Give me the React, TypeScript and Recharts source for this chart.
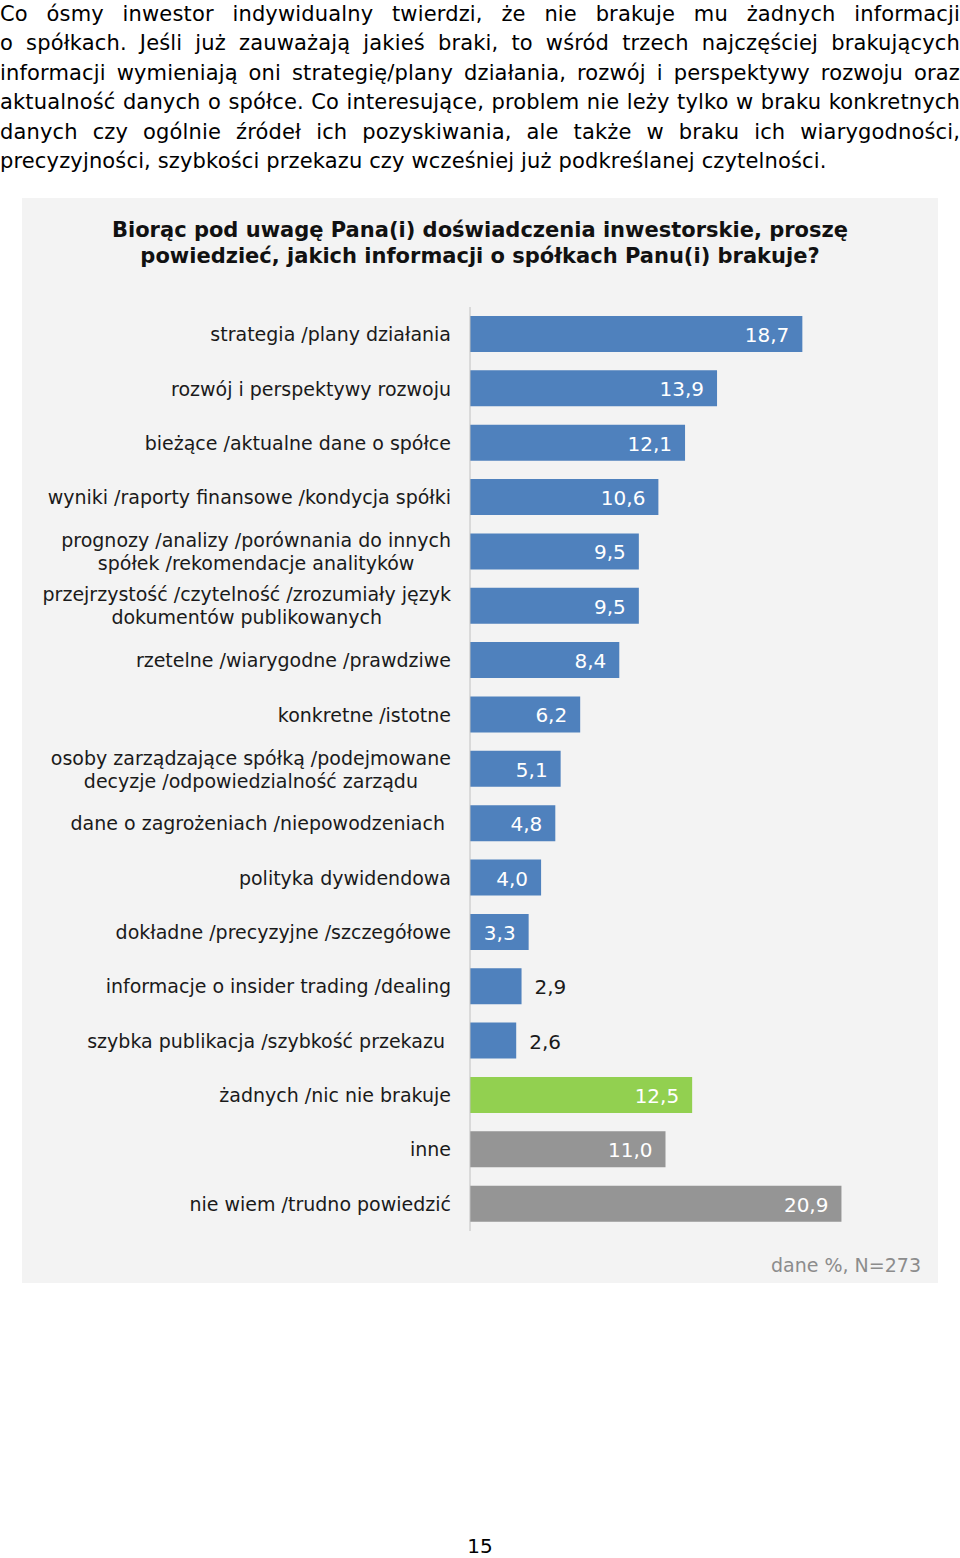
import React from 'react'
import { BarChart, Bar, XAxis, YAxis, Cell, LabelList } from 'recharts'

const introLines = [
  'Co ósmy inwestor indywidualny twierdzi, że nie brakuje mu żadnych informacji',
  'o spółkach. Jeśli już zauważają jakieś braki, to wśród trzech najczęściej brakujących',
  'informacji wymieniają oni strategię/plany działania, rozwój i perspektywy rozwoju oraz',
  'aktualność danych o spółce. Co interesujące, problem nie leży tylko w braku konkretnych',
  'danych czy ogólnie źródeł ich pozyskiwania, ale także w braku ich wiarygodności,',
  'precyzyjności, szybkości przekazu czy wcześniej już podkreślanej czytelności.',
]

const titleLines = [
  'Biorąc pod uwagę Pana(i) doświadczenia inwestorskie, proszę',
  'powiedzieć, jakich informacji o spółkach Panu(i) brakuje?',
]

const categories = [
  'strategia /plany działania',
  'rozwój i perspektywy rozwoju',
  'bieżące /aktualne dane o spółce',
  'wyniki /raporty finansowe /kondycja spółki',
  'prognozy /analizy /porównania do innych\nspółek /rekomendacje analityków',
  'przejrzystość /czytelność /zrozumiały język\ndokumentów publikowanych',
  'rzetelne /wiarygodne /prawdziwe',
  'konkretne /istotne',
  'osoby zarządzające spółką /podejmowane\ndecyzje /odpowiedzialność zarządu',
  'dane o zagrożeniach /niepowodzeniach\u00a0',
  'polityka dywidendowa',
  'dokładne /precyzyjne /szczegółowe',
  'informacje o insider trading /dealing',
  'szybka publikacja /szybkość przekazu\u00a0',
  'żadnych /nic nie brakuje',
  'inne',
  'nie wiem /trudno powiedzić',
]

const values = [18.7, 13.9, 12.1, 10.6, 9.5, 9.5, 8.4, 6.2, 5.1, 4.8, 4.0, 3.3, 2.9, 2.6, 12.5, 11.0, 20.9]

const groups = [
  'info', 'info', 'info', 'info', 'info', 'info', 'info',
  'info', 'info', 'info', 'info', 'info', 'info', 'info',
  'none', 'other', 'other',
]

const footnote = 'dane %, N=273'
const pageNumber = '15'

const groupColor: Record<string, string> = {
  info: '#4f81bd',
  none: '#92d050',
  other: '#959595',
}

const FONT = '"DejaVu Sans", Verdana, sans-serif'

const data = categories.map((name, i) => ({ name, value: values[i], group: groups[i] }))

const fmt = (v: number) => v.toFixed(1).replace('.', ',')

let measureCtx: CanvasRenderingContext2D | null = null
const textWidth = (s: string, size: number) => {
  if (!measureCtx) measureCtx = document.createElement('canvas').getContext('2d')
  if (!measureCtx) return s.length * size * 0.55
  measureCtx.font = `${size}px ${FONT}`
  return measureCtx.measureText(s).width
}

// multi-line labels: block is right aligned, lines centred inside it
const CategoryTick = (props: any) => {
  const { x, y, payload } = props
  const lines: string[] = String(payload.value).split('\n')
  const size = 19
  const lh = 23
  const blockW = Math.max(...lines.map((l) => textWidth(l, size)))
  const right = x - 11
  const cx = right - blockW / 2
  const y0 = y - ((lines.length - 1) * lh) / 2
  return (
    <g>
      {lines.map((l, i) => (
        <text
          key={i}
          x={lines.length > 1 ? cx : right}
          y={y0 + i * lh}
          textAnchor={lines.length > 1 ? 'middle' : 'end'}
          dominantBaseline="central"
          fontSize={size}
          fontFamily={FONT}
          fill="#1a1a1a"
        >
          {l}
        </text>
      ))}
    </g>
  )
}

// digits ~0.636em, comma ~0.318em in DejaVu Sans
const labelWidth = (s: string, size: number) =>
  s.split('').reduce((w, c) => w + (c === ',' ? 0.318 : 0.636) * size, 0)

const ValueLabel = (props: any) => {
  const { x, y, width, height, value } = props
  const label = fmt(Number(value))
  const inside = width >= labelWidth(label, 20) + 24
  return (
    <text
      x={inside ? x + width - 13 : x + width + 13}
      y={y + height / 2 + 1}
      textAnchor={inside ? 'end' : 'start'}
      dominantBaseline="central"
      fontSize={20}
      fontFamily={FONT}
      fill={inside ? '#ffffff' : '#1a1a1a'}
    >
      {label}
    </text>
  )
}

export default function App() {
  return (
    <div
      style={{
        position: 'absolute',
        left: 0,
        top: 0,
        width: 960,
        height: 1558,
        background: '#ffffff',
        fontFamily: FONT,
        color: '#000',
      }}
    >
      {/* intro paragraph */}
      <div
        style={{
          position: 'absolute',
          left: 0,
          top: 0,
          width: 960,
          fontSize: 21,
          letterSpacing: '0.15px',
          lineHeight: '29.4px',
        }}
      >
        {introLines.map((l, i) => (
          <div
            key={i}
            style={{
              textAlign: i === introLines.length - 1 ? 'left' : 'justify',
              textAlignLast: i === introLines.length - 1 ? 'left' : 'justify',
              whiteSpace: 'nowrap',
            }}
          >
            {l}
          </div>
        ))}
      </div>

      {/* chart panel */}
      <div style={{ position: 'absolute', left: 22, top: 198, width: 916, height: 1085, background: '#f3f3f3' }}>
        <div
          style={{
            position: 'absolute',
            left: 0,
            top: 19,
            width: 916,
            textAlign: 'center',
            fontWeight: 'bold',
            fontSize: 21,
            lineHeight: '26px',
            color: '#111',
          }}
        >
          {titleLines.map((l, i) => (
            <div key={i}>{l}</div>
          ))}
        </div>

        <div style={{ position: 'absolute', left: 0, top: 0 }}>
          <BarChart
            width={916}
            height={1085}
            data={data}
            layout="vertical"
            margin={{ top: 109, right: 77, bottom: 52, left: 0 }}
            barCategoryGap={0}
          >
            <XAxis type="number" domain={[0, 22]} hide />
            <YAxis
              type="category"
              dataKey="name"
              width={448}
              axisLine={{ stroke: '#c0c0c0' }}
              tickLine={false}
              tick={<CategoryTick />}
              interval={0}
            />
            <Bar dataKey="value" barSize={36} isAnimationActive={false}>
              {data.map((d, i) => (
                <Cell key={i} fill={groupColor[d.group]} />
              ))}
              <LabelList dataKey="value" content={<ValueLabel />} />
            </Bar>
          </BarChart>
        </div>

        <div
          style={{
            position: 'absolute',
            right: 17,
            top: 1054,
            fontSize: 19,
            lineHeight: '26px',
            color: '#8c8c8c',
          }}
        >
          {footnote}
        </div>
      </div>

      <div
        style={{
          position: 'absolute',
          left: 0,
          top: 1532,
          width: 960,
          textAlign: 'center',
          fontSize: 20,
          lineHeight: '28px',
        }}
      >
        {pageNumber}
      </div>
    </div>
  )
}
